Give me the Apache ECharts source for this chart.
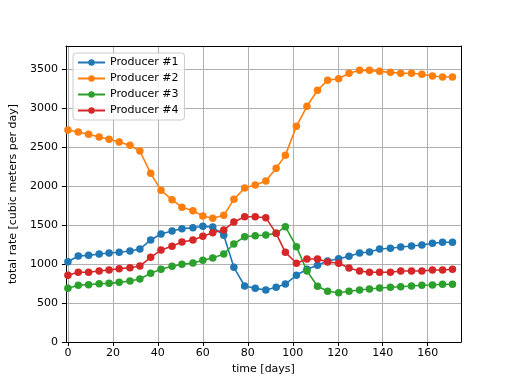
<!DOCTYPE html>
<html>
<head>
<meta charset="utf-8">
<script src="https://cdn.jsdelivr.net/npm/echarts@6/dist/echarts.min.js"></script>
<style>html,body{margin:0;padding:0;background:#fff}#c{width:512px;height:384px}</style>
</head>
<body>
<div id="c"></div>
<script>
var days = [0, 4.6, 9.2, 13.9, 18.3, 22.8, 27.6, 32.0, 36.8, 41.4, 46.3, 50.7, 55.6, 60.0, 64.4, 69.3, 73.8, 78.6, 83.3, 88.0, 92.6, 96.7, 101.6, 106.3, 111.0, 115.5, 120.4, 125.0, 129.7, 134.1, 138.6, 143.4, 148.0, 152.8, 157.4, 162.1, 166.6, 171.0];
var producer1 = [1029, 1103, 1111, 1128, 1141, 1150, 1167, 1192, 1308, 1385, 1423, 1453, 1465, 1483, 1474, 1368, 958, 718, 688, 667, 701, 743, 855, 932, 983, 1038, 1068, 1098, 1141, 1154, 1192, 1201, 1218, 1231, 1244, 1265, 1278, 1278];
var producer2 = [2718, 2692, 2663, 2628, 2599, 2564, 2521, 2449, 2163, 1945, 1825, 1727, 1684, 1615, 1586, 1624, 1829, 1974, 2013, 2064, 2227, 2393, 2765, 3022, 3227, 3355, 3376, 3445, 3483, 3483, 3470, 3457, 3445, 3445, 3432, 3410, 3397, 3397];
var producer3 = [688, 727, 735, 748, 752, 765, 782, 808, 881, 932, 970, 996, 1013, 1047, 1077, 1128, 1256, 1350, 1363, 1372, 1393, 1478, 1222, 910, 714, 650, 632, 650, 667, 679, 692, 701, 709, 718, 727, 731, 740, 740];
var producer4 = [855, 894, 894, 910, 923, 940, 953, 974, 1086, 1179, 1227, 1282, 1308, 1355, 1402, 1436, 1538, 1606, 1606, 1594, 1393, 1150, 1009, 1064, 1064, 1026, 1009, 949, 910, 894, 894, 894, 910, 910, 910, 923, 923, 932];
var seriesNames = ['Producer #1', 'Producer #2', 'Producer #3', 'Producer #4'];
var xTicks = [0, 20, 40, 60, 80, 100, 120, 140, 160];
var yTicks = [0, 500, 1000, 1500, 2000, 2500, 3000, 3500];

var colors = ['#1f77b4', '#ff7f0e', '#2ca02c', '#d62728'];
var FONT = 'DejaVu Sans';
function pairs(ys) { return days.map(function (d, i) { return [d, ys[i]]; }); }
var allData = [producer1, producer2, producer3, producer4];

var chart = echarts.init(document.getElementById('c'), null, { renderer: 'canvas' });
var option = {
  animation: false,
  backgroundColor: '#ffffff',
  color: colors,
  textStyle: { fontFamily: FONT },
  grid: { left: 65, right: 51, top: 46, bottom: 42, containLabel: false },
  legend: {
    orient: 'vertical',
    left: 73, top: 53,
    padding: [4, 6, 4, 4],
    itemWidth: 27, itemHeight: 8, itemGap: 5,
    borderColor: '#cccccc', borderWidth: 1, borderRadius: 3,
    backgroundColor: 'rgba(255,255,255,0.8)',
    textStyle: { fontFamily: FONT, fontSize: 11, color: '#000' },
    data: seriesNames
  },
  xAxis: [{
    type: 'value', min: -0.9, max: 174.8,
    name: 'time [days]', nameLocation: 'middle', nameGap: 20,
    nameTextStyle: { fontFamily: FONT, fontSize: 11, color: '#000' },
    axisLine: { show: true, onZero: false, lineStyle: { color: '#000', width: 1 } },
    axisTick: { show: true, inside: false, length: 4, customValues: xTicks, lineStyle: { color: '#000' } },
    axisLabel: { customValues: xTicks, margin: 6, fontFamily: FONT, fontSize: 11, color: '#000' },
    splitLine: { show: true, lineStyle: { color: '#b0b0b0', width: 1 } }
  }, {
    type: 'value', position: 'top', min: -0.9, max: 174.8,
    axisLine: { show: true, onZero: false, lineStyle: { color: '#000', width: 1 } },
    axisTick: { show: false }, axisLabel: { show: false }, splitLine: { show: false }
  }],
  yAxis: [{
    type: 'value', min: 0, max: 3795,
    name: 'total rate [cubic meters per day]', nameLocation: 'middle', nameGap: 38,
    nameTextStyle: { fontFamily: FONT, fontSize: 11, color: '#000' },
    axisLine: { show: true, onZero: false, lineStyle: { color: '#000', width: 1 } },
    axisTick: { show: true, inside: false, length: 4, customValues: yTicks, lineStyle: { color: '#000' } },
    axisLabel: { customValues: yTicks, margin: 8, fontFamily: FONT, fontSize: 11, color: '#000',
      formatter: function (v) { return String(v); } },
    splitLine: { show: true, lineStyle: { color: '#b0b0b0', width: 1 } }
  }, {
    type: 'value', position: 'right', min: 0, max: 3795,
    axisLine: { show: true, onZero: false, lineStyle: { color: '#000', width: 1 } },
    axisTick: { show: false }, axisLabel: { show: false }, splitLine: { show: false }
  }],
  series: allData.map(function (ys, i) {
    return {
      name: seriesNames[i], type: 'line', xAxisIndex: 0, yAxisIndex: 0,
      data: pairs(ys),
      symbol: 'circle', symbolSize: 7.5, showSymbol: true,
      lineStyle: { width: 1.6, color: colors[i] },
      itemStyle: { color: colors[i] },
      z: 3 + i
    };
  })
};
chart.setOption(option);
</script>
</body>
</html>
